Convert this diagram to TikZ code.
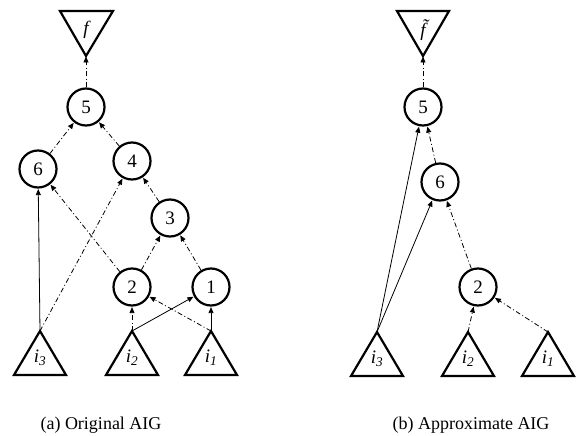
\documentclass[tikz,border=0pt]{standalone}
\usepackage{fontspec}
\setmainfont{Liberation Serif}
\usetikzlibrary{arrows.meta}
\begin{document}
\begin{tikzpicture}[x=1pt,y=-1pt,
  gate/.style={circle,draw,line width=2.2pt,minimum size=37pt,inner sep=0pt,font=\fontsize{19}{19}\selectfont},
  tri/.style={draw,line width=2.2pt,line join=miter},
  lab/.style={font=\fontsize{19}{19}\selectfont\itshape},
  conn/.style={line width=0.8pt,-{Triangle[length=6pt,width=5pt]},shorten >=0.5pt},
  dd/.style={conn,dash pattern=on 5pt off 2.5pt on 1pt off 2.5pt},
  sol/.style={conn},
  captxt/.style={font=\fontsize{18}{18}\selectfont}]
\useasboundingbox (0,0) rectangle (578,436);
% ---------- (a) ----------
\coordinate (Lf) at (86,56);
\draw[tri] (Lf) -- (60,11) -- (113,11) -- cycle;
\node[lab] (Lflab) at (86,30) {f};
\node[gate] (L5) at (86,107) {5};
\node[gate] (L6) at (38,169) {6};
\node[gate] (L4) at (132,161) {4};
\node[gate] (L3) at (170,218) {3};
\node[gate] (L2) at (132,287) {2};
\node[gate] (L1) at (211,287) {1};
\coordinate (Li3) at (40,331);
\coordinate (Li2) at (132,331);
\coordinate (Li1) at (211,331);
\foreach \c in {Li3,Li2,Li1}{\draw[tri] (\c) -- ++(26,44) -- ++(-52,0) -- cycle;}
\node[lab] (Li3lab) at (40,358) {i\textsubscript{3}};
\node[lab] (Li2lab) at (132,358) {i\textsubscript{2}};
\node[lab] (Li1lab) at (211,358) {i\textsubscript{1}};
\draw[dd] (L5) -- (Lf);
\draw[dd] (L6) -- (L5);
\draw[dd] (L4) -- (L5);
\draw[dd] (L3) -- (L4);
\draw[dd] (L2) -- (L6);
\draw[dd] (Li3) -- (L4);
\draw[sol] (Li3) -- (L6);
\draw[dd] (L2) -- (L3);
\draw[dd] (L1) -- (L3);
\draw[dd] (Li2) -- (L2);
\draw[sol] (Li2) -- (L1);
\draw[dd] (Li1) -- (L2);
\draw[sol] (Li1) -- (L1);
\node[captxt] (Lcap) at (101,425) {(a) Original AIG};
% ---------- (b) ----------
\coordinate (Rf) at (423,56);
\draw[tri] (Rf) -- (397,11) -- (449,11) -- cycle;
\node[lab] (Rflab) at (423,30) {\~{f}};
\node[gate] (R5) at (423,107) {5};
\node[gate] (R6) at (440,182) {6};
\node[gate] (R2) at (478,287) {2};
\coordinate (Ri3) at (377,332);
\coordinate (Ri2) at (468,332);
\coordinate (Ri1) at (548,332);
\foreach \c in {Ri3,Ri2,Ri1}{\draw[tri] (\c) -- ++(26,44) -- ++(-52,0) -- cycle;}
\node[lab] (Ri3lab) at (377,359) {i\textsubscript{3}};
\node[lab] (Ri2lab) at (468,359) {i\textsubscript{2}};
\node[lab] (Ri1lab) at (548,359) {i\textsubscript{1}};
\draw[dd] (R5) -- (Rf);
\draw[dd] (R6) -- (R5);
\draw[sol] (Ri3) -- (R5);
\draw[sol] (Ri3) -- (R6);
\draw[dd] (R2) -- (R6);
\draw[dd] (Ri2) -- (R2);
\draw[dd] (Ri1) -- (R2);
\node[captxt] (Rcap) at (471,425) {(b) Approximate AIG};
\end{tikzpicture}
\end{document}
